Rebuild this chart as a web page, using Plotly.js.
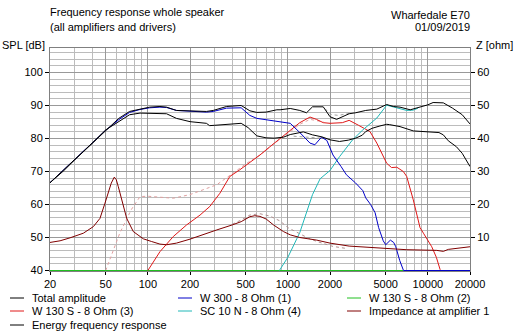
<!DOCTYPE html>
<html><head><meta charset="utf-8">
<script src="https://cdn.plot.ly/plotly-3.0.1.min.js"></script>
<style>html,body{margin:0;padding:0;background:#fff;}#chart{width:514px;height:333px;}</style>
</head><body><div id="chart"></div>
<script>
// ---- data ----
const totalFreq = [20,25,30,40,50,62,74,88,103,122,136,160,200,262,293,365,464,535,600,700,834,880,1040,1217,1360,1500,1790,2000,2230,2460,2740,3050,3600,4320,5080,5670,6325,7480,8790,10000,10900,12900,15000,17600,20000];
const totalSPL  = [66.6,70.2,73.5,78.6,82.6,86.1,88.2,89.0,89.5,89.7,89.5,88.5,88.4,88.2,88.5,89.7,90.0,88.4,87.9,88.0,88.7,88.7,89.1,88.5,87.8,89.6,89.6,86.6,85.8,86.6,87.5,87.8,88.5,88.9,90.3,89.7,89.5,88.7,89.5,90.2,90.9,90.8,89.2,87.2,84.4];

const energyFreq = [20,30,40,50,62,74,88,122,136,160,200,262,276,300,365,464,520,600,700,800,930,1040,1290,1500,1750,2000,2340,2700,3050,3400,3600,4000,4550,5080,5330,6325,7870,10300,12000,12900,14000,16000,17600,20000];
const energySPL  = [66.6,73.5,78.6,82.6,85.2,87.2,87.7,87.7,87.5,86.1,85.1,84.6,83.9,84.0,84.3,84.6,83.3,80.8,80.2,80.1,80.4,81.2,82.0,81.1,80.5,79.6,79.1,79.5,80.1,81.0,82.1,83.1,83.8,84.3,84.2,83.6,82.3,82.1,81.8,81.1,79.3,77.5,75.5,71.5];

const woofFreq = [20,30,40,50,62,74,88,103,122,136,160,200,262,293,365,464,535,600,744,880,1040,1217,1440,1560,1740,1900,2100,2400,2620,3050,3430,3600,3900,4200,4450,4800,5000,5400,5700,5900,6300,6700,20000];
const woofSPL  = [66.6,73.5,78.6,82.5,85.7,87.9,88.8,89.3,89.5,89.4,88.5,88.3,88.0,88.2,89.2,89.3,87.0,86.1,85.6,85.1,84.6,81.8,78.6,78.1,80.4,79.4,75.0,71.5,69.0,66.5,64.2,62.0,60.0,57.5,53.0,49.0,47.8,49.2,48.5,47.2,43.0,40.0,40.0];

const mid2Freq = [20,6700];
const mid2SPL  = [40,40];

const mid3Freq = [100,122,152,189,236,277,327,385,453,567,632,744,880,1000,1217,1440,1600,1790,2000,2450,2740,3200,3600,3860,4320,4800,5080,5500,6000,6680,7060,7870,8790,9300,10660,11500,12250];
const mid3SPL  = [40,45.7,50.3,53.8,56.8,59.4,63.4,68.5,70.5,73.5,75,77.5,80,82,84.8,86.5,85.8,84.8,84.6,84.8,85.5,84.0,82.8,82.1,78.6,74.5,72.5,71.2,71.3,70,68.5,61.4,53,51.3,47.2,44,40.2];

const tweetFreq = [870,1000,1217,1500,1700,2000,2340,2900,3430,3860,4320,5080,5670,6325,7060,7870,8500];
const tweetSPL  = [40,44,51.5,63,67.8,70.3,74.5,79.6,82.6,84.6,86.2,90.1,89.6,89.2,88.5,88.6,89.2];

const impFreq = [20,23.6,27.8,34.6,40.8,45.5,49.4,52,54.8,57.6,59.5,61.5,64,66.8,70.6,78.7,92.8,106,122,136,160,200,250,311,400,464,535,580,632,700,790,930,1040,1217,1610,2000,2740,4000,5080,7060,11570,12900,14000,17000,20000];
const impOhm  = [8.5,9.0,9.9,11.3,13.3,15.8,20.4,23.6,26.5,28.3,27.5,25.4,22.5,19.4,15.8,11.8,9.6,8.8,8.0,7.8,8.3,9.5,10.8,12.3,13.8,14.8,16.3,16.6,16.4,15.6,13.8,11.8,10.8,10.0,9.2,8.3,7.4,7.0,6.8,6.3,6.1,5.8,6.4,6.9,7.2];

// faint dashed reference curves (not in legend)
const refMidFreq = [50,63,76,88,100,152,200,311,406,508,632,800,1000,1217,1440,1800];
const refMidSPL  = [40,51.3,58.4,62.4,62.5,61.9,63,66,69.5,72.5,75,78.5,81.5,84.3,85.8,85.0];
const refImpFreq = [400,464,535,632,744,880,1000,1217,1400,1610,2100,2600];
const refImpOhm  = [14.0,15.3,16.8,17.2,16.5,15.0,13.0,11.0,9.8,8.8,7.3,6.7];
const refTopFreq = [1850,2000,2300,2600,2800];
const refTopSPL  = [89.0,87.3,87.0,87.3,87.7];
const refLowFreq = [1100,1300,1600,1900];
const refLowSPL  = [80.7,80.4,80.2,80.0];

const seriesNames = ['Total amplitude','W 300 - 8 Ohm (1)','W 130 S - 8 Ohm (2)','W 130 S - 8 Ohm (3)','SC 10 N - 8 Ohm (4)','Impedance at amplifier 1','Energy frequency response'];
const xTickVals = [20,50,100,200,500,1000,2000,5000,10000,20000];
const xTickText = ['20','50','100','200','500','1000','2000','5000','10000','20000'];
const yTickVals = [40,50,60,70,80,90,100];
const zTickVals = [10,20,30,40,50,60];

// ---- styling / geometry ----
const colors = ['#000000','#0000c8','#20c020','#e01818','#20b8b8','#800000','#000000'];
const W = 514, H = 333, L = 50, R = 44, T = 48, B = 62;
const pw = W - L - R, ph = H - T - B;
const pxPerDb = 3.3;
const yLo = 40 - 0.5 / pxPerDb, yHi = yLo + ph / pxPerDb;
const px2x = p => (p - L) / pw;
const py2y = p => (H - B - p) / ph;

const minorX = [];
[10,100,1000,10000].forEach(d => { for (let k = 1; k <= 9; k++) { const v = k * d; if (v > 20 && v < 20000 && xTickVals.indexOf(v) < 0) minorX.push(v); } });

const font = {family: 'Liberation Sans, Arial, sans-serif', size: 11, color: '#000'};

function tr(x, y, color, opts) {
  return Object.assign({x: x, y: y, type: 'scatter', mode: 'lines', line: {color: color, width: 1}, hoverinfo: 'skip', showlegend: false}, opts || {});
}
const traces = [
  tr(refMidFreq, refMidSPL, '#e0a0a0', {line: {color: '#e0a0a0', width: 1, dash: 'dot'}}),
  tr(refImpFreq, refImpOhm, '#b09090', {yaxis: 'y2', line: {color: '#b09090', width: 1, dash: 'dot'}}),
  tr(refTopFreq, refTopSPL, '#a0a0a0', {line: {color: '#a0a0a0', width: 1, dash: 'dot'}}),
  tr(refLowFreq, refLowSPL, '#a0a0a0', {line: {color: '#a0a0a0', width: 1, dash: 'dot'}}),
  tr(mid2Freq, mid2SPL, colors[2], {name: seriesNames[2]}),
  tr(impFreq, impOhm, colors[5], {name: seriesNames[5], yaxis: 'y2'}),
  tr(mid3Freq, mid3SPL, colors[3], {name: seriesNames[3]}),
  tr(tweetFreq, tweetSPL, colors[4], {name: seriesNames[4]}),
  tr(woofFreq, woofSPL, colors[1], {name: seriesNames[1]}),
  tr(totalFreq, totalSPL, colors[0], {name: seriesNames[0]}),
  tr(energyFreq, energySPL, colors[6], {name: seriesNames[6]})
];

// legend drawn as text + sample lines (3 columns)
const legCols = [10, 178, 347], legRows = [298, 311, 325];
const shapes = [], annotations = [];
seriesNames.forEach((n, i) => {
  const cx = legCols[i % 3], cy = legRows[Math.floor(i / 3)];
  shapes.push({type: 'line', xref: 'paper', yref: 'paper', x0: px2x(cx), x1: px2x(cx + 14), y0: py2y(cy), y1: py2y(cy), line: {color: colors[i], width: 1}});
  annotations.push({xref: 'paper', yref: 'paper', x: px2x(cx + 20), y: py2y(cy), xanchor: 'left', yanchor: 'middle', text: n, showarrow: false, font: font});
});
const txt = (t, px, py, anchor) => ({xref: 'paper', yref: 'paper', x: px2x(px), y: py2y(py), xanchor: anchor, yanchor: 'middle', text: t, showarrow: false, font: font});
annotations.push(txt('Frequency response whole speaker', 48, 12, 'left'));
annotations.push(txt('(all amplifiers and drivers)', 48, 27, 'left'));
annotations.push(txt('Wharfedale E70', 472, 15, 'right'));
annotations.push(txt('01/09/2019', 472, 27, 'right'));
annotations.push(txt('SPL [dB]', 0, 45, 'left'));
annotations.push(txt('Z [ohm]', 474, 45, 'left'));

const layout = {
  width: W, height: H, margin: {l: L, r: R, t: T, b: B},
  paper_bgcolor: '#fff', plot_bgcolor: '#fff', font: font, showlegend: false,
  xaxis: {type: 'log', range: [Math.log10(20), Math.log10(20000)], tickmode: 'array', tickvals: xTickVals, ticktext: xTickText,
    showgrid: true, gridcolor: '#999999', gridwidth: 1, ticks: 'outside', ticklen: 3, tickcolor: '#000',
    showline: true, linecolor: '#808080', mirror: true, layer: 'below traces', zeroline: false,
    minor: {tickmode: 'array', tickvals: minorX, showgrid: true, gridcolor: '#bcbcbc', ticks: ''}},
  yaxis: {range: [yLo, yHi], tickmode: 'array', tickvals: yTickVals, showgrid: true, gridcolor: '#999999',
    ticks: 'outside', ticklen: 4, tickcolor: '#000', showline: true, linecolor: '#808080', mirror: true, layer: 'below traces', zeroline: false,
    minor: {dtick: 2, tick0: 40, showgrid: true, gridcolor: '#bcbcbc', ticks: ''}},
  yaxis2: {overlaying: 'y', side: 'right', range: [yLo - 40, yHi - 40], tickmode: 'array', tickvals: zTickVals, showgrid: false,
    ticks: 'outside', ticklen: 4, tickcolor: '#000', showline: true, linecolor: '#808080', zeroline: false},
  shapes: shapes, annotations: annotations
};
Plotly.newPlot('chart', traces, layout, {staticPlot: true, displayModeBar: false});
</script></body></html>
